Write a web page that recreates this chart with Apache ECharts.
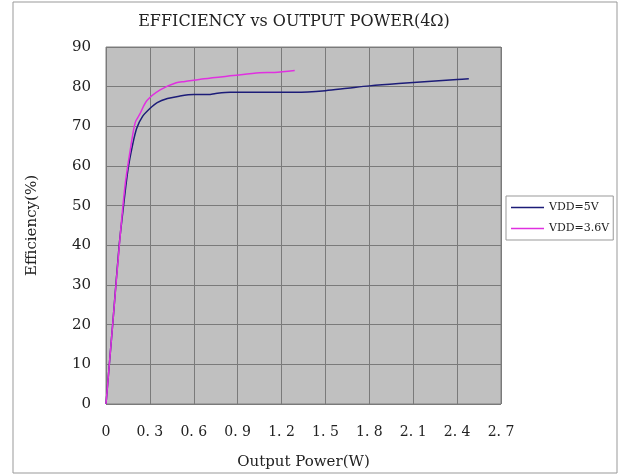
<!DOCTYPE html>
<html>
<head>
<meta charset="utf-8">
<script src="https://cdn.jsdelivr.net/npm/echarts@6/dist/echarts.min.js"></script>
<style>
  html, body { margin: 0; padding: 0; background: #fff; }
  #main { width: 621px; height: 475px; }
</style>
</head>
<body>
<div id="main"></div>
<script>
// curve data: [power W, efficiency %]
const vdd5 = [
  [0, 0], [0.05, 22], [0.09, 40], [0.12, 50], [0.15, 59], [0.18, 65],
  [0.21, 69.5], [0.25, 72.5], [0.3, 74.5], [0.35, 76], [0.42, 77],
  [0.5, 77.6], [0.6, 78], [0.7, 78], [0.75, 78.3], [0.85, 78.6],
  [1.0, 78.6], [1.3, 78.6], [1.5, 79], [1.65, 79.6], [1.8, 80.2],
  [2.0, 80.8], [2.2, 81.3], [2.4, 81.8], [2.48, 82]
]
const vdd36 = [
  [0, 0], [0.05, 22], [0.09, 39.5], [0.13, 55], [0.17, 65], [0.2, 71],
  [0.23, 73], [0.28, 76.5], [0.37, 79.2], [0.48, 81], [0.54, 81.3],
  [0.67, 82], [0.87, 82.8], [1.05, 83.5], [1.15, 83.6], [1.29, 84.1]
]
const seriesNames = ['VDD=5V', 'VDD=3.6V']
const seriesColors = ['#1c1c78', '#e030e0']

const font = 'DejaVu Serif'
const myChart = echarts.init(document.getElementById('main'))
const option = {
  animation: false,
  backgroundColor: '#fff',
  textStyle: { fontFamily: font },
  title: {
    text: 'EFFICIENCY vs OUTPUT POWER(4Ω)',
    left: 289,
    textAlign: 'center',
    top: 9,
    textStyle: { fontFamily: font, fontSize: 16, fontWeight: 'normal', color: '#222' }
  },
  graphic: [
    {
      type: 'rect',
      shape: { x: 13, y: 2, width: 604, height: 471 },
      style: { fill: 'none', stroke: '#999', lineWidth: 1 },
      z: -1
    }
  ],
  legend: {
    orient: 'vertical',
    left: 506,
    top: 196,
    icon: 'rect',
    itemWidth: 33,
    itemHeight: 1.5,
    itemGap: 10,
    padding: [6, 4, 6, 5],
    borderColor: '#999',
    borderWidth: 1,
    textStyle: { fontFamily: font, fontSize: 11, color: '#222' },
    data: seriesNames
  },
  grid: {
    left: 106, right: 120, top: 47, bottom: 71,
    show: true,
    backgroundColor: '#c0c0c0',
    borderColor: '#808080',
    borderWidth: 1
  },
  xAxis: {
    type: 'value',
    min: 0, max: 2.7, interval: 0.3,
    name: 'Output Power(W)',
    nameLocation: 'middle',
    nameGap: 51,
    nameTextStyle: { fontFamily: font, fontSize: 15, color: '#222' },
    axisLine: { show: false },
    axisTick: { show: false },
    axisLabel: {
      margin: 21,
      fontSize: 14,
      color: '#222',
      formatter: function (v) { return v === 0 ? '0' : v.toFixed(1).replace('.', '. ') }
    },
    splitLine: { show: true, lineStyle: { color: '#7a7a7a', width: 1 } }
  },
  yAxis: {
    type: 'value',
    min: 0, max: 90, interval: 10,
    name: 'Efficiency(%)',
    nameLocation: 'middle',
    nameGap: 66,
    nameTextStyle: { fontFamily: font, fontSize: 15, color: '#222' },
    axisLine: { show: false },
    axisTick: { show: false },
    axisLabel: { margin: 15, fontSize: 15, color: '#222' },
    splitLine: { show: true, lineStyle: { color: '#7a7a7a', width: 1 } }
  },
  series: [
    {
      name: seriesNames[0],
      type: 'line',
      data: vdd5,
      symbol: 'none',
      smooth: 0.3,
      lineStyle: { color: seriesColors[0], width: 1.5 },
      itemStyle: { color: seriesColors[0] }
    },
    {
      name: seriesNames[1],
      type: 'line',
      data: vdd36,
      symbol: 'none',
      smooth: 0.3,
      lineStyle: { color: seriesColors[1], width: 1.5 },
      itemStyle: { color: seriesColors[1] }
    }
  ]
}
option && myChart.setOption(option)
</script>
</body>
</html>
